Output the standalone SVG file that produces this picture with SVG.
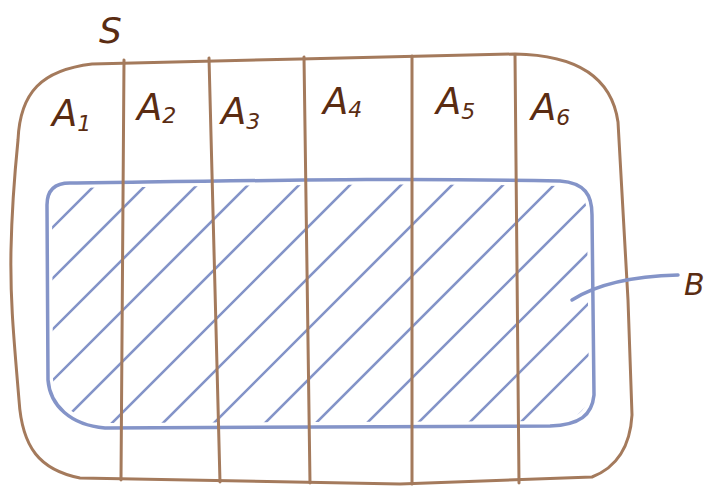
<svg xmlns="http://www.w3.org/2000/svg" width="714" height="488" viewBox="0 0 714 488">
<style>
.brown{fill:none;stroke:#a47a5c;stroke-width:3;stroke-linecap:round;stroke-linejoin:round}
.blue{fill:none;stroke:#8494c8;stroke-width:3.5;stroke-linecap:round;stroke-linejoin:round}
.hatch{stroke:#8494c8;stroke-width:2.6;stroke-linecap:round}
.lbl{font-family:"DejaVu Sans","Liberation Sans",sans-serif;font-style:italic;fill:#5a2c12}
.a{font-size:37px}
.sub{font-size:22px}
</style>
<defs>
<clipPath id="bclip">
<path d="M 72,188 C 300,185 400,183 560,186 C 582,188 587,198 587,217 L 589,393 C 587,411 577,420 550,421 L 107,423 C 74,420 55,402 53,379 L 52,206 C 52,193 58,188 72,188 Z"/>
</clipPath>
</defs>
<g id="S">
<path class="brown" d="M 18,140 C 20,92 42,70 92,64 L 300,59 L 515,54 C 580,55 612,80 618,122 L 628,300 L 632,415 C 630,450 615,468 592,477 L 400,484 L 80,478 C 40,470 22,448 19,400 C 14,340 10,300 11,250 C 12,200 15,170 18,140 Z"/>
<text class="lbl" x="99" y="43" font-size="36">S</text>
</g>
<g id="B">
<path class="blue" d="M 70,183 C 300,180 400,178 560,181 C 585,183 592,195 592,215 L 594,395 C 592,415 580,425 550,426 L 105,428 C 70,425 50,405 48,380 L 47,205 C 47,190 55,183 70,183 Z"/>
<g clip-path="url(#bclip)">
<line class="hatch" x1="0" y1="280" x2="280" y2="0"/>
<line class="hatch" x1="0" y1="331" x2="331" y2="0"/>
<line class="hatch" x1="0" y1="382" x2="382" y2="0"/>
<line class="hatch" x1="0" y1="433" x2="433" y2="0"/>
<line class="hatch" x1="0" y1="484" x2="484" y2="0"/>
<line class="hatch" x1="0" y1="535" x2="535" y2="0"/>
<line class="hatch" x1="0" y1="586" x2="586" y2="0"/>
<line class="hatch" x1="0" y1="637" x2="637" y2="0"/>
<line class="hatch" x1="0" y1="688" x2="688" y2="0"/>
<line class="hatch" x1="0" y1="739" x2="739" y2="0"/>
<line class="hatch" x1="0" y1="790" x2="790" y2="0"/>
<line class="hatch" x1="0" y1="841" x2="841" y2="0"/>
<line class="hatch" x1="0" y1="892" x2="892" y2="0"/>
<line class="hatch" x1="0" y1="943" x2="943" y2="0"/>
<line class="hatch" x1="0" y1="994" x2="994" y2="0"/>
</g>
<text class="lbl" x="684" y="295" font-size="30">B</text>
</g>
<g id="partitions">
<path class="brown" d="M 124,60 L 121,480"/>
<path class="brown" d="M 209,58 L 220,482"/>
<path class="brown" d="M 304,57 L 310,483"/>
<path class="brown" d="M 412,56 L 412,484"/>
<path class="brown" d="M 515,55 L 519,483"/>
</g>
<g id="A1"><text class="lbl a" x="52" y="126">A<tspan class="sub" dy="5">1</tspan></text></g>
<g id="A2"><text class="lbl a" x="137" y="120">A<tspan class="sub" dy="3">2</tspan></text></g>
<g id="A3"><text class="lbl a" x="221" y="124">A<tspan class="sub" dy="5">3</tspan></text></g>
<g id="A4"><text class="lbl a" x="323" y="114">A<tspan class="sub" dy="3">4</tspan></text></g>
<g id="A5"><text class="lbl a" x="436" y="114">A<tspan class="sub" dy="5">5</tspan></text></g>
<g id="A6"><text class="lbl a" x="531" y="120">A<tspan class="sub" dy="5">6</tspan></text></g>
<g id="connectors">
<path class="blue" stroke-width="2.6" d="M 572,300 C 600,282 640,276 678,275"/>
</g>
</svg>
